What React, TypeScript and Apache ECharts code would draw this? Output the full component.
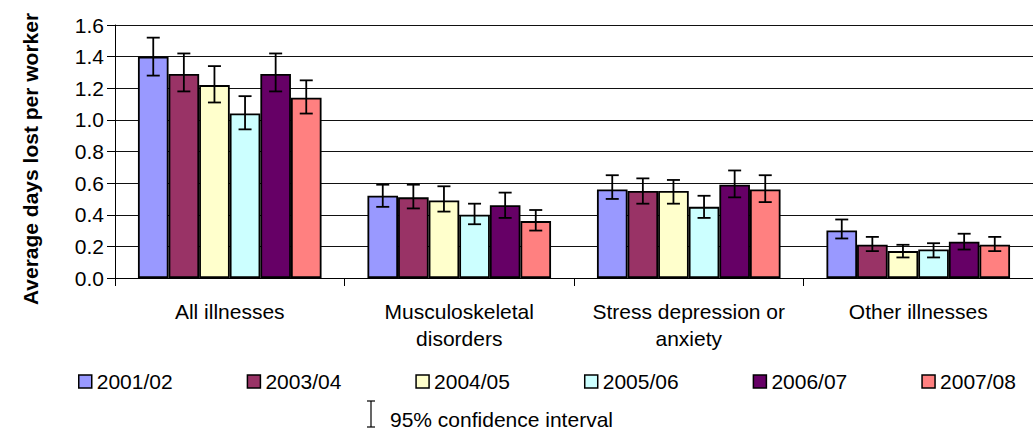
import React, { useEffect, useRef } from "react";
import * as echarts from "echarts";

const categories = [
  "All illnesses",
  "Musculoskeletal\ndisorders",
  "Stress depression or\nanxiety",
  "Other illnesses",
];
const years = ["2001/02", "2003/04", "2004/05", "2005/06", "2006/07", "2007/08"];
const colors = ["#9999FF", "#993366", "#FFFFCC", "#CCFFFF", "#660066", "#FF8080"];

const values2001 = [1.4, 0.52, 0.56, 0.3];
const values2003 = [1.29, 0.51, 0.55, 0.21];
const values2004 = [1.22, 0.49, 0.55, 0.17];
const values2005 = [1.04, 0.4, 0.45, 0.18];
const values2006 = [1.29, 0.46, 0.59, 0.23];
const values2007 = [1.14, 0.36, 0.56, 0.21];

const lower2001 = [1.28, 0.45, 0.5, 0.25];
const lower2003 = [1.18, 0.44, 0.47, 0.17];
const lower2004 = [1.11, 0.42, 0.47, 0.13];
const lower2005 = [0.94, 0.34, 0.38, 0.13];
const lower2006 = [1.18, 0.38, 0.51, 0.18];
const lower2007 = [1.04, 0.3, 0.48, 0.17];

const upper2001 = [1.52, 0.59, 0.65, 0.37];
const upper2003 = [1.42, 0.59, 0.63, 0.26];
const upper2004 = [1.34, 0.58, 0.62, 0.21];
const upper2005 = [1.15, 0.47, 0.52, 0.22];
const upper2006 = [1.42, 0.54, 0.68, 0.28];
const upper2007 = [1.25, 0.43, 0.65, 0.26];

const yTicks = { min: 0, max: 1.6, interval: 0.2 };

const FONT = "'Liberation Sans', Arial, sans-serif";
const FS = 21;

export default function App() {
  const ref = useRef<HTMLDivElement>(null);

  useEffect(() => {
    if (!ref.current) return;
    const chart = echarts.init(ref.current, undefined, { renderer: "svg" });
    const values = [values2001, values2003, values2004, values2005, values2006, values2007];
    const lowers = [lower2001, lower2003, lower2004, lower2005, lower2006, lower2007];
    const uppers = [upper2001, upper2003, upper2004, upper2005, upper2006, upper2007];
    const nSeries = years.length;
    const catGap = 0.2;

    const errData: number[][] = [];
    years.forEach((_, s) => {
      categories.forEach((_, c) => {
        errData.push([c, s, lowers[s][c], uppers[s][c]]);
      });
    });

    const barSeries = years.map((y, s) => ({
      name: y,
      type: "bar",
      data: values[s],
      barGap: "0%",
      barCategoryGap: "20%",
      itemStyle: { color: colors[s], borderColor: "#000", borderWidth: 1.8 },
      z: 2,
    }));

    const option = {
      animation: false,
      textStyle: { fontFamily: FONT },
      grid: { left: 115, top: 25, width: 928, height: 253, containLabel: false },
      legend: {
        data: years,
        left: 78,
        top: 371,
        padding: 0,
        itemWidth: 13,
        itemHeight: 13,
        itemGap: 74,
        icon: "rect",
        textStyle: { fontSize: FS, color: "#000", fontFamily: FONT },
        itemStyle: { borderColor: "#000", borderWidth: 1.5 },
        selectedMode: false,
      },
      xAxis: {
        type: "category",
        data: categories,
        axisLine: { show: true, lineStyle: { color: "#000", width: 1 } },
        axisTick: { show: true, length: 8, alignWithLabel: false, lineStyle: { color: "#000" } },
        axisLabel: {
          fontSize: FS,
          color: "#000",
          lineHeight: 27,
          margin: 20,
          fontFamily: FONT,
          interval: 0,
        },
        splitLine: { show: false },
      },
      yAxis: {
        type: "value",
        min: yTicks.min,
        max: yTicks.max,
        interval: yTicks.interval,
        axisLine: { show: true, lineStyle: { color: "#000", width: 1 } },
        axisTick: { show: true, length: 8, lineStyle: { color: "#000" } },
        axisLabel: {
          fontSize: FS,
          color: "#000",
          margin: 11,
          fontFamily: FONT,
          formatter: (v: number) => v.toFixed(1),
        },
        splitLine: { show: true, lineStyle: { color: "#111", width: 1 } },
      },
      graphic: [
        {
          type: "text",
          x: 30,
          y: 159,
          rotation: Math.PI / 2,
          style: {
            text: "Average days lost per worker",
            font: `bold 21px ${FONT}`,
            fill: "#000",
            textAlign: "center",
            textVerticalAlign: "middle",
          },
        },
        {
          type: "group",
          children: [
            { type: "line", shape: { x1: 371, y1: 401, x2: 371, y2: 427 }, style: { stroke: "#000", lineWidth: 1.2 } },
            { type: "line", shape: { x1: 367, y1: 401, x2: 375, y2: 401 }, style: { stroke: "#000", lineWidth: 1.2 } },
            { type: "line", shape: { x1: 367, y1: 427, x2: 375, y2: 427 }, style: { stroke: "#000", lineWidth: 1.2 } },
          ],
        },
        {
          type: "text",
          x: 390,
          y: 419,
          style: {
            text: "95% confidence interval",
            font: `21px ${FONT}`,
            fill: "#000",
            textAlign: "left",
            textVerticalAlign: "middle",
          },
        },
      ],
      series: [
        ...barSeries,
        {
          name: "95% confidence interval",
          type: "custom",
          data: errData,
          encode: { x: 0, y: [2, 3] },
          z: 5,
          renderItem: (params: any, api: any) => {
            const c = api.value(0);
            const s = api.value(1);
            const lo = api.value(2);
            const hi = api.value(3);
            const catW = api.size([1, 0])[0];
            const bw = (catW * (1 - catGap)) / nSeries;
            const cx = api.coord([c, 0])[0] + (s - (nSeries - 1) / 2) * bw;
            const yLo = api.coord([c, lo])[1];
            const yHi = api.coord([c, hi])[1];
            const half = 6.5;
            const st = { stroke: "#000", lineWidth: 1.8 };
            return {
              type: "group",
              children: [
                { type: "line", shape: { x1: cx, y1: yLo, x2: cx, y2: yHi }, style: st },
                { type: "line", shape: { x1: cx - half, y1: yLo, x2: cx + half, y2: yLo }, style: st },
                { type: "line", shape: { x1: cx - half, y1: yHi, x2: cx + half, y2: yHi }, style: st },
              ],
            };
          },
        },
      ],
    };

    chart.setOption(option as any);
    return () => chart.dispose();
  }, []);

  return (
    <div
      ref={ref}
      style={{ position: "absolute", left: 0, top: 0, width: 1033, height: 430, background: "#fff" }}
    />
  );
}
